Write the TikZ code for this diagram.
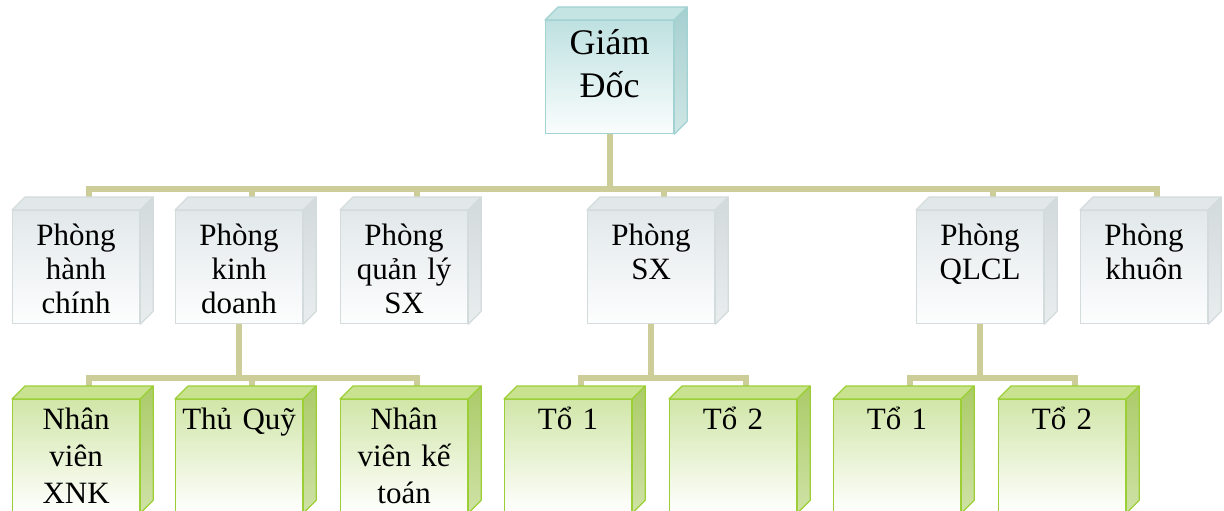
\documentclass[tikz,border=0pt]{standalone}
\usepackage{fontspec}
\setmainfont{Liberation Serif}
\pgfdeclarelayer{background}
\pgfsetlayers{background,main}

% palettes: front gradient, edge, lid (top face), side gradient
\definecolor{connc}{HTML}{CDCD9A}
\definecolor{gdfronttop}{HTML}{BFE1E1}
\definecolor{gdfrontbot}{HTML}{FAFDFD}
\definecolor{gdedge}{HTML}{A2D2D2}
\definecolor{gdlid}{HTML}{C4E3E3}
\definecolor{gdside}{HTML}{A6CFCF}
\definecolor{gdsidebot}{HTML}{CFE6E6}
\definecolor{dpfronttop}{HTML}{E2E8EA}
\definecolor{dpfrontbot}{HTML}{FDFEFE}
\definecolor{dpedge}{HTML}{D3DBDD}
\definecolor{dplid}{HTML}{E2E8E9}
\definecolor{dpside}{HTML}{D3DADC}
\definecolor{dpsidebot}{HTML}{E9EDEE}
\definecolor{tmfronttop}{HTML}{D1E6A8}
\definecolor{tmfrontmid}{HTML}{E6F1D2}
\definecolor{tmfrontbot}{HTML}{FFFFFF}
\definecolor{tmedge}{HTML}{9CCF36}
\definecolor{tmlid}{HTML}{C8E290}
\definecolor{tmside}{HTML}{ABCB68}
\definecolor{tmsidebot}{HTML}{CFE2A6}

\tikzset{
  conn/.style={line width=6pt, draw=connc},
  face/.style={anchor=north west, inner sep=0pt, line width=1.2pt,
    minimum width=127pt, minimum height=113pt},
  gdface/.style={face, minimum width=128pt, draw=gdedge,
    top color=gdfronttop, bottom color=gdfrontbot},
  dpface/.style={face, draw=dpedge,
    top color=dpfronttop, bottom color=dpfrontbot},
  tmface/.style={face, draw=tmedge,
    top color=tmfronttop, middle color=tmfrontmid, bottom color=tmfrontbot},
  lbl/.style={anchor=base, inner sep=0pt, align=center, text width=127pt},
  gdlbl/.style={lbl, font=\fontsize{36}{43}\selectfont},
  dplbl/.style={lbl, font=\fontsize{31}{34}\selectfont},
  tmlbl/.style={lbl, font=\fontsize{31}{37}\selectfont},
}

% lid and side of a box whose front face is node #1, palette #2
\newcommand\cubesides[2]{%
  \draw[line width=1.2pt, draw=#2edge, fill=#2lid, line join=round]
    (#1.north west) -- ++(13pt,13pt) -- ([shift={(13pt,13pt)}]#1.north east)
    -- (#1.north east) -- cycle;
  \draw[line width=1.2pt, draw=#2edge, top color=#2side, bottom color=#2sidebot, line join=round]
    (#1.north east) -- ++(13pt,13pt) -- ([shift={(13pt,13pt)}]#1.south east)
    -- (#1.south east) -- cycle;
  \coordinate (#1-b) at ([shift={(13pt,13pt)}]#1.north);
}

\begin{document}
\begin{tikzpicture}[x=1pt,y=-1pt]
\useasboundingbox (0,0) rectangle (1224,511);
\clip (0,0) rectangle (1224,511);

% director
\node[gdface] (gd) at (545,20) {};
\cubesides{gd}{gd}
\node[gdlbl, text width=128pt] (gd-t) at ([yshift=-35pt]gd.north) {Giám\\Đốc};

% departments
\node[dpface] (hc) at (12,210) {};
\cubesides{hc}{dp}
\node[dplbl] (hc-t) at ([yshift=-35pt]hc.north) {Phòng\\hành\\chính};

\node[dpface] (kd) at (175,210) {};
\cubesides{kd}{dp}
\node[dplbl] (kd-t) at ([yshift=-35pt]kd.north) {Phòng\\kinh\\doanh};

\node[dpface] (ql) at (340,210) {};
\cubesides{ql}{dp}
\node[dplbl] (ql-t) at ([yshift=-35pt]ql.north) {Phòng\\quản lý\\SX};

\node[dpface] (sx) at (587,210) {};
\cubesides{sx}{dp}
\node[dplbl] (sx-t) at ([yshift=-35pt]sx.north) {Phòng\\SX};

\node[dpface] (qc) at (916,210) {};
\cubesides{qc}{dp}
\node[dplbl] (qc-t) at ([yshift=-35pt]qc.north) {Phòng\\QLCL};

\node[dpface] (kh) at (1080,210) {};
\cubesides{kh}{dp}
\node[dplbl] (kh-t) at ([yshift=-35pt]kh.north) {Phòng\\khuôn};

% teams
\node[tmface] (nx) at (12,399) {};
\cubesides{nx}{tm}
\node[tmlbl] (nx-t) at ([yshift=-30pt]nx.north) {Nhân\\viên\\XNK};

\node[tmface] (tq) at (175,399) {};
\cubesides{tq}{tm}
\node[tmlbl] (tq-t) at ([yshift=-30pt]tq.north) {Thủ Quỹ};

\node[tmface] (kt) at (340,399) {};
\cubesides{kt}{tm}
\node[tmlbl] (kt-t) at ([yshift=-30pt]kt.north) {Nhân\\viên kế\\toán};

\node[tmface] (s1) at (504,399) {};
\cubesides{s1}{tm}
\node[tmlbl] (s1-t) at ([yshift=-30pt]s1.north) {Tổ 1};

\node[tmface] (s2) at (669,399) {};
\cubesides{s2}{tm}
\node[tmlbl] (s2-t) at ([yshift=-30pt]s2.north) {Tổ 2};

\node[tmface] (q1) at (833,399) {};
\cubesides{q1}{tm}
\node[tmlbl] (q1-t) at ([yshift=-30pt]q1.north) {Tổ 1};

\node[tmface] (q2) at (998,399) {};
\cubesides{q2}{tm}
\node[tmlbl] (q2-t) at ([yshift=-30pt]q2.north) {Tổ 2};

% connectors, behind the boxes
\begin{pgfonlayer}{background}
  \coordinate (j0) at ([yshift=-55pt]gd.south);
  \draw[conn] (gd.south) -- (j0);
  \foreach \n in {hc,kd,ql,sx,qc,kh} \draw[conn] (j0) -| (\n-b);

  \coordinate (j1) at ([yshift=-54pt]kd.south);
  \draw[conn] (kd.south) -- (j1);
  \foreach \n in {nx,tq,kt} \draw[conn] (j1) -| (\n-b);

  \coordinate (j2) at ([yshift=-54pt]sx.south);
  \draw[conn] (sx.south) -- (j2);
  \foreach \n in {s1,s2} \draw[conn] (j2) -| (\n-b);

  \coordinate (j3) at ([yshift=-54pt]qc.south);
  \draw[conn] (qc.south) -- (j3);
  \foreach \n in {q1,q2} \draw[conn] (j3) -| (\n-b);
\end{pgfonlayer}
\end{tikzpicture}
\end{document}
